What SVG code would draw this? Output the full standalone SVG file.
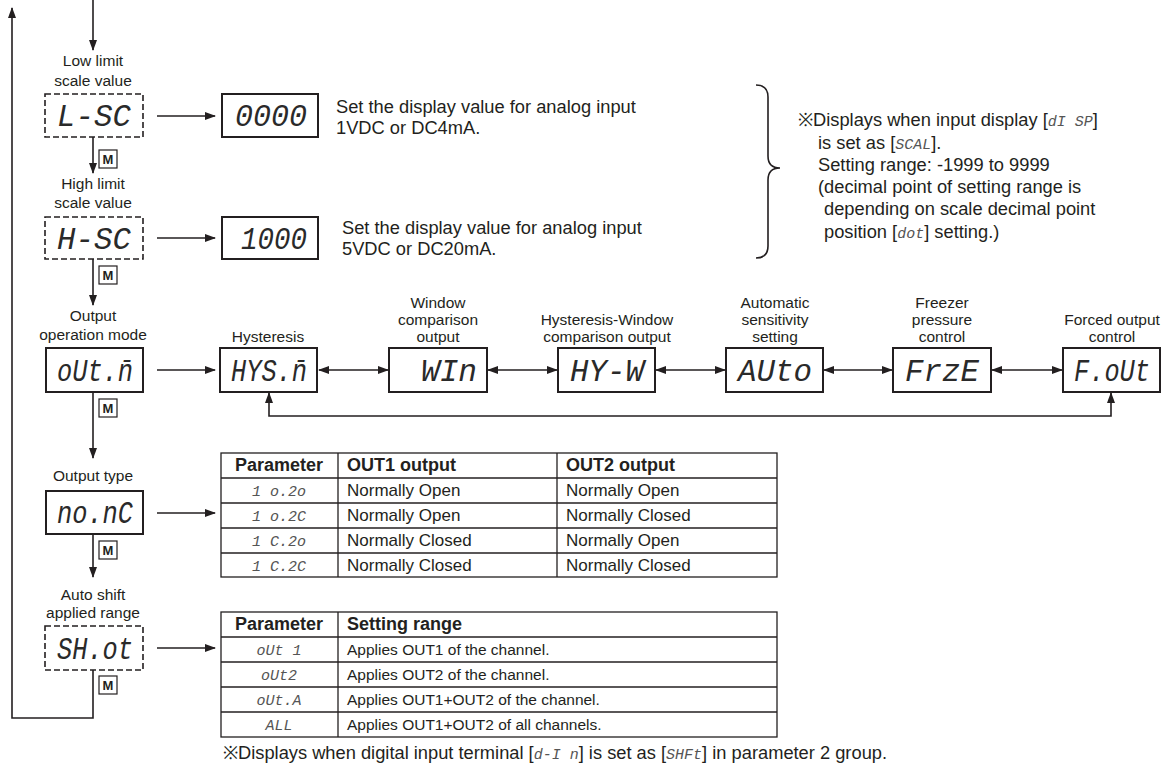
<svg xmlns="http://www.w3.org/2000/svg" width="1173" height="765" viewBox="0 0 1173 765">
<defs>
<marker id="ah" markerWidth="11" markerHeight="8" refX="10" refY="4" orient="auto-start-reverse" markerUnits="userSpaceOnUse">
<path d="M0,0 L11,4 L0,8 z" fill="#231f20"/>
</marker>
<style>
.lbl{font-family:"Liberation Sans",Arial,sans-serif;font-size:15.5px;fill:#231f20;text-anchor:middle}
.txt{font-family:"Liberation Sans",Arial,sans-serif;font-size:18.3px;fill:#231f20}
.seg{font-family:"Liberation Mono","DejaVu Sans Mono",monospace;font-style:italic;font-size:31px;fill:#2a2a2a;text-anchor:middle}
.sseg{font-family:"Liberation Mono","DejaVu Sans Mono",monospace;font-style:italic;fill:#555}
.box{fill:#fff;stroke:#231f20;stroke-width:2}
.dbox{fill:#fff;stroke:#231f20;stroke-width:1.6;stroke-dasharray:6 3}
.mbox{fill:#fff;stroke:#231f20;stroke-width:1.2}
.mt{font-family:"Liberation Sans",Arial,sans-serif;font-size:13px;font-weight:bold;fill:#231f20;text-anchor:middle}
.con{fill:none;stroke:#231f20;stroke-width:1.6}
.cell{fill:none;stroke:#231f20;stroke-width:1.3}
.th{font-family:"Liberation Sans",Arial,sans-serif;font-size:18px;font-weight:bold;fill:#231f20}
.td{font-family:"Liberation Sans",Arial,sans-serif;font-size:17px;fill:#231f20}
.td2{font-family:"Liberation Sans",Arial,sans-serif;font-size:15.5px;fill:#231f20}
.tseg{font-family:"Liberation Mono","DejaVu Sans Mono",monospace;font-style:italic;font-size:15px;fill:#555;text-anchor:middle}
</style>
</defs>

<g id="connectors">
<line class="con" x1="93" y1="0" x2="93" y2="50" marker-end="url(#ah)"/>
<line class="con" x1="93" y1="137" x2="93" y2="173" marker-end="url(#ah)"/>
<line class="con" x1="93" y1="259" x2="93" y2="305" marker-end="url(#ah)"/>
<line class="con" x1="93" y1="392" x2="93" y2="458" marker-end="url(#ah)"/>
<line class="con" x1="93" y1="534" x2="93" y2="577" marker-end="url(#ah)"/>
<polyline class="con" points="93,670 93,718 12,718 12,8" marker-end="url(#ah)"/>
<line class="con" x1="157" y1="116" x2="215" y2="116" marker-end="url(#ah)"/>
<line class="con" x1="157" y1="238" x2="215" y2="238" marker-end="url(#ah)"/>
<line class="con" x1="157" y1="370" x2="215" y2="370" marker-end="url(#ah)"/>
<line class="con" x1="157" y1="513" x2="215" y2="513" marker-end="url(#ah)"/>
<line class="con" x1="157" y1="648" x2="215" y2="648" marker-end="url(#ah)"/>
<line class="con" x1="319" y1="370" x2="388" y2="370" marker-start="url(#ah)" marker-end="url(#ah)"/>
<line class="con" x1="488" y1="370" x2="557" y2="370" marker-start="url(#ah)" marker-end="url(#ah)"/>
<line class="con" x1="656" y1="370" x2="725" y2="370" marker-start="url(#ah)" marker-end="url(#ah)"/>
<line class="con" x1="824" y1="370" x2="892" y2="370" marker-start="url(#ah)" marker-end="url(#ah)"/>
<line class="con" x1="992" y1="370" x2="1062" y2="370" marker-start="url(#ah)" marker-end="url(#ah)"/>
<path class="con" d="M269,393 L269,416 L1111,416 L1111,393" marker-start="url(#ah)" marker-end="url(#ah)"/>
<path class="con" stroke-width="2.8" d="M756,85 Q768,85 768,97 L768,156 Q768,168 780,168 Q768,168 768,180 L768,246 Q768,258 756,258"/>
</g>

<g id="m-keys">
<rect class="mbox" x="99" y="150" width="18" height="18"/><text class="mt" x="108" y="164">M</text>
<rect class="mbox" x="99" y="266" width="18" height="18"/><text class="mt" x="108" y="280">M</text>
<rect class="mbox" x="99" y="399" width="18" height="18"/><text class="mt" x="108" y="413">M</text>
<rect class="mbox" x="99" y="541" width="18" height="18"/><text class="mt" x="108" y="555">M</text>
<rect class="mbox" x="99" y="676" width="18" height="18"/><text class="mt" x="108" y="690">M</text>
</g>

<g id="node-lsc">
<text class="lbl" x="93" y="66">Low limit</text>
<text class="lbl" x="93" y="86">scale value</text>
<rect class="dbox" x="45" y="94" width="98" height="43"/>
<text class="seg" x="94" y="126" textLength="74" lengthAdjust="spacingAndGlyphs">L-SC</text>
</g>
<g id="node-0000">
<rect class="box" x="222" y="94" width="96" height="43"/>
<text class="seg" x="271" y="126" textLength="72" lengthAdjust="spacingAndGlyphs">0000</text>
<text class="txt" x="336" y="113">Set the display value for analog input</text>
<text class="txt" x="336" y="134">1VDC or DC4mA.</text>
</g>
<g id="node-hsc">
<text class="lbl" x="93" y="189">High limit</text>
<text class="lbl" x="93" y="208">scale value</text>
<rect class="dbox" x="45" y="217" width="98" height="42"/>
<text class="seg" x="94" y="249" textLength="74" lengthAdjust="spacingAndGlyphs">H-SC</text>
</g>
<g id="node-1000">
<rect class="box" x="222" y="217" width="96" height="42"/>
<text class="seg" x="274" y="249" textLength="66" lengthAdjust="spacingAndGlyphs">1000</text>
<text class="txt" x="342" y="234">Set the display value for analog input</text>
<text class="txt" x="342" y="255">5VDC or DC20mA.</text>
</g>

<g id="note-scale">
<text class="txt" x="798" y="126">※Displays when input display [<tspan class="sseg" font-size="15">dI SP</tspan>]</text>
<text class="txt" x="818" y="149">is set as [<tspan class="sseg" font-size="15">SCAL</tspan>].</text>
<text class="txt" x="818" y="171">Setting range: -1999 to 9999</text>
<text class="txt" x="818" y="193">(decimal point of setting range is</text>
<text class="txt" x="824" y="215">depending on scale decimal point</text>
<text class="txt" x="824" y="238">position [<tspan class="sseg" font-size="15">dot</tspan>] setting.)</text>
</g>

<g id="node-outm">
<text class="lbl" x="93" y="321">Output</text>
<text class="lbl" x="93" y="340">operation mode</text>
<rect class="box" x="46" y="348" width="97" height="44"/>
<text class="seg" x="95" y="381" textLength="76" lengthAdjust="spacingAndGlyphs">oUt.n̄</text>
</g>
<g id="node-hys">
<text class="lbl" x="268" y="342">Hysteresis</text>
<rect class="box" x="220" y="348" width="97" height="44"/>
<text class="seg" x="269" y="381" textLength="76" lengthAdjust="spacingAndGlyphs">HYS.n̄</text>
</g>
<g id="node-win">
<text class="lbl" x="438" y="308">Window</text>
<text class="lbl" x="438" y="325">comparison</text>
<text class="lbl" x="438" y="342">output</text>
<rect class="box" x="389" y="348" width="98" height="44"/>
<text class="seg" x="449" y="381" textLength="56" lengthAdjust="spacingAndGlyphs">WIn</text>
</g>
<g id="node-hyw">
<text class="lbl" x="607" y="325">Hysteresis-Window</text>
<text class="lbl" x="607" y="342">comparison output</text>
<rect class="box" x="558" y="348" width="97" height="44"/>
<text class="seg" x="607" y="381" textLength="74" lengthAdjust="spacingAndGlyphs">HY-W</text>
</g>
<g id="node-auto">
<text class="lbl" x="775" y="308">Automatic</text>
<text class="lbl" x="775" y="325">sensitivity</text>
<text class="lbl" x="775" y="342">setting</text>
<rect class="box" x="726" y="348" width="97" height="44"/>
<text class="seg" x="775" y="381" textLength="74" lengthAdjust="spacingAndGlyphs">AUto</text>
</g>
<g id="node-frze">
<text class="lbl" x="942" y="308">Freezer</text>
<text class="lbl" x="942" y="325">pressure</text>
<text class="lbl" x="942" y="342">control</text>
<rect class="box" x="893" y="348" width="98" height="44"/>
<text class="seg" x="942" y="381" textLength="74" lengthAdjust="spacingAndGlyphs">FrzE</text>
</g>
<g id="node-fout">
<text class="lbl" x="1112" y="325">Forced output</text>
<text class="lbl" x="1112" y="342">control</text>
<rect class="box" x="1063" y="348" width="97" height="44"/>
<text class="seg" x="1112" y="381" textLength="76" lengthAdjust="spacingAndGlyphs">F.oUt</text>
</g>

<g id="node-nonc">
<text class="lbl" x="93" y="481">Output type</text>
<rect class="box" x="46" y="491" width="97" height="43"/>
<text class="seg" x="95" y="523" textLength="76" lengthAdjust="spacingAndGlyphs">no.nC</text>
</g>
<g id="table-output-type">
<rect class="cell" x="221" y="453" width="556" height="124"/>
<line class="cell" x1="338" y1="453" x2="338" y2="577"/>
<line class="cell" x1="557" y1="453" x2="557" y2="577"/>
<line class="cell" x1="221" y1="478" x2="777" y2="478"/>
<line class="cell" x1="221" y1="503" x2="777" y2="503"/>
<line class="cell" x1="221" y1="528" x2="777" y2="528"/>
<line class="cell" x1="221" y1="553" x2="777" y2="553"/>
<text class="th" x="279" y="471" text-anchor="middle">Parameter</text>
<text class="th" x="347" y="471">OUT1 output</text>
<text class="th" x="566" y="471">OUT2 output</text>
<text class="tseg" x="279" y="496">1 o.2o</text>
<text class="tseg" x="279" y="521">1 o.2C</text>
<text class="tseg" x="279" y="546">1 C.2o</text>
<text class="tseg" x="279" y="571">1 C.2C</text>
<text class="td" x="347" y="496">Normally Open</text>
<text class="td" x="347" y="521">Normally Open</text>
<text class="td" x="347" y="546">Normally Closed</text>
<text class="td" x="347" y="571">Normally Closed</text>
<text class="td" x="566" y="496">Normally Open</text>
<text class="td" x="566" y="521">Normally Closed</text>
<text class="td" x="566" y="546">Normally Open</text>
<text class="td" x="566" y="571">Normally Closed</text>
</g>

<g id="node-shot">
<text class="lbl" x="93" y="600">Auto shift</text>
<text class="lbl" x="93" y="618">applied range</text>
<rect class="dbox" x="45" y="626" width="98" height="44"/>
<text class="seg" x="95" y="659" textLength="76" lengthAdjust="spacingAndGlyphs">SH.ot</text>
</g>
<g id="table-shift-range">
<rect class="cell" x="221" y="612" width="556" height="125"/>
<line class="cell" x1="338" y1="612" x2="338" y2="737"/>
<line class="cell" x1="221" y1="637" x2="777" y2="637"/>
<line class="cell" x1="221" y1="662" x2="777" y2="662"/>
<line class="cell" x1="221" y1="687" x2="777" y2="687"/>
<line class="cell" x1="221" y1="712" x2="777" y2="712"/>
<text class="th" x="279" y="630" text-anchor="middle">Parameter</text>
<text class="th" x="347" y="630">Setting range</text>
<text class="tseg" x="279" y="655">oUt 1</text>
<text class="tseg" x="279" y="680">oUt2</text>
<text class="tseg" x="279" y="705">oUt.A</text>
<text class="tseg" x="279" y="730">ALL</text>
<text class="td2" x="347" y="655">Applies OUT1 of the channel.</text>
<text class="td2" x="347" y="680">Applies OUT2 of the channel.</text>
<text class="td2" x="347" y="705">Applies OUT1+OUT2 of the channel.</text>
<text class="td2" x="347" y="730">Applies OUT1+OUT2 of all channels.</text>
<text class="txt" x="223" y="759">※Displays when digital input terminal [<tspan class="sseg" font-size="15">d-I n</tspan>] is set as [<tspan class="sseg" font-size="15">SHFt</tspan>] in parameter 2 group.</text>
</g>
</svg>
